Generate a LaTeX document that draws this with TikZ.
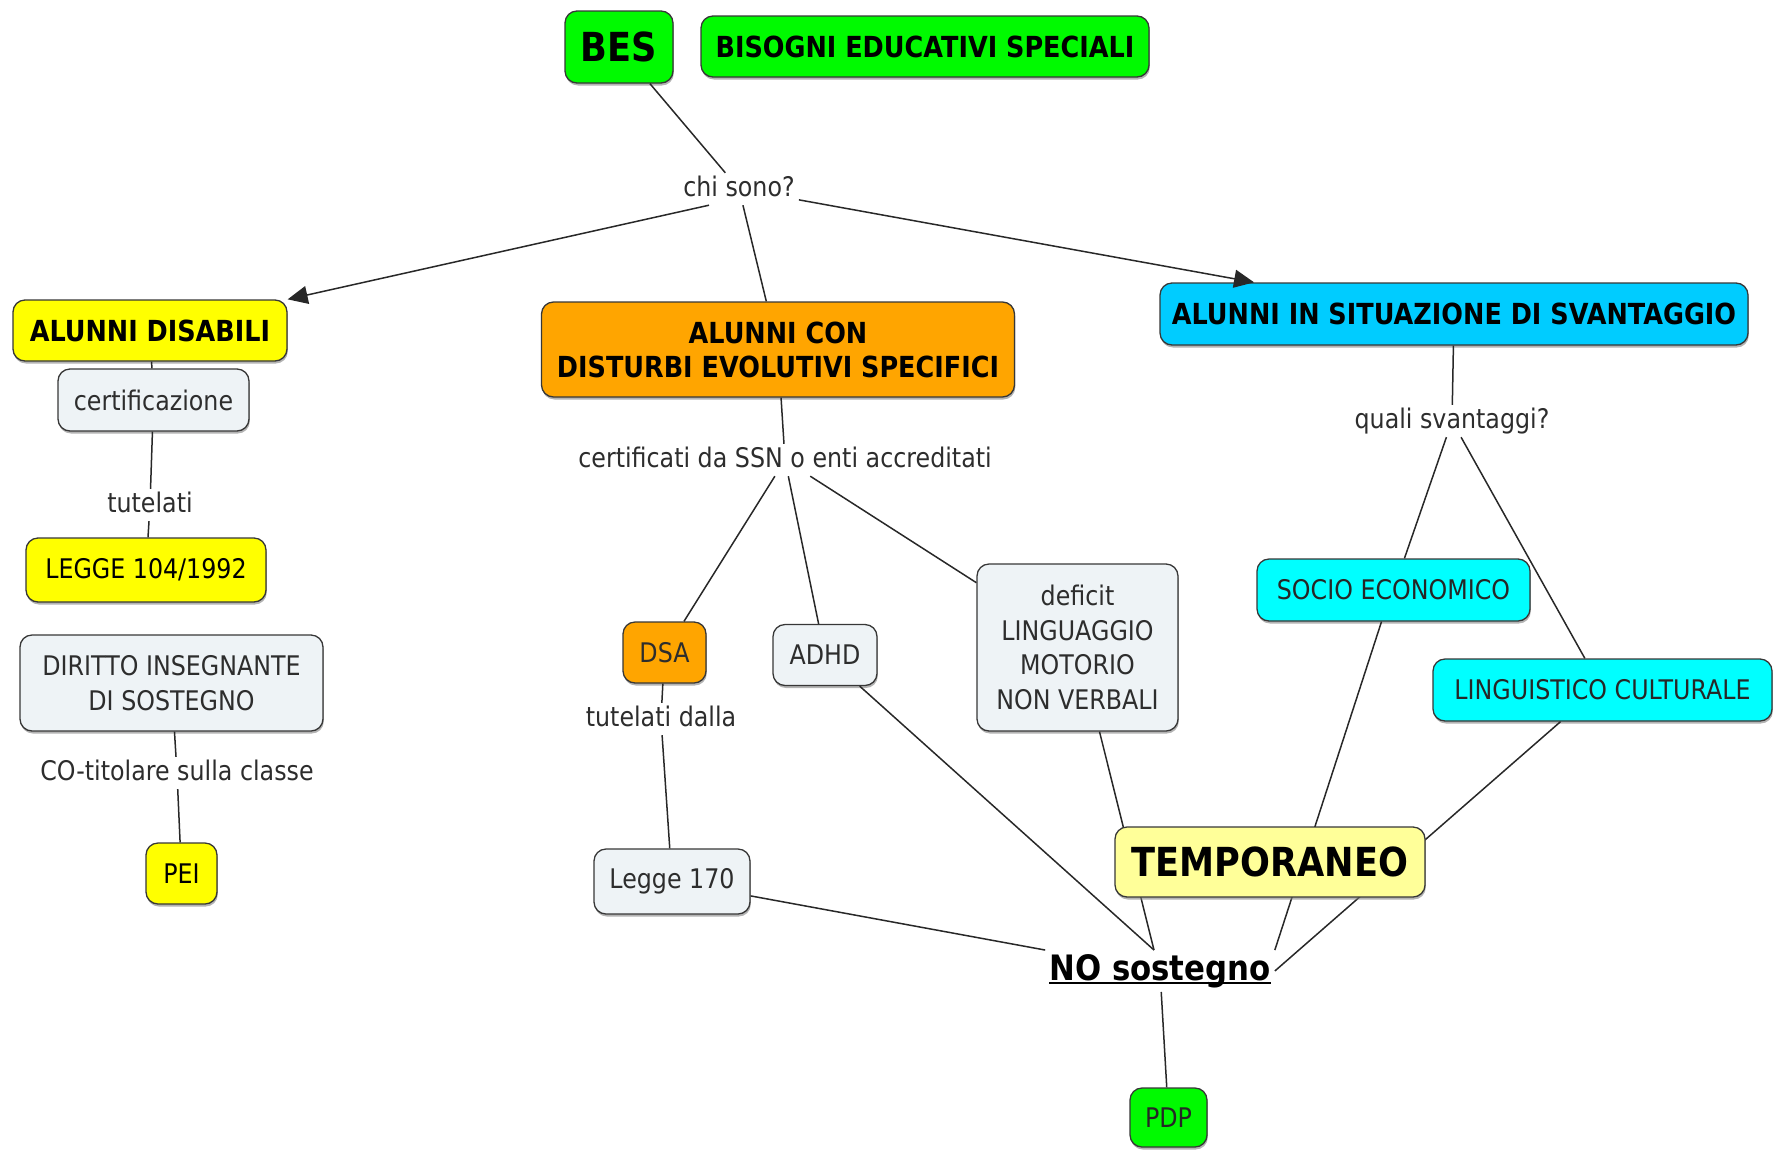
\documentclass[tikz,border=0pt]{standalone}
\usepackage{fontspec}
\setmainfont{DejaVu Sans}[FakeStretch=0.88]
\usetikzlibrary{arrows.meta,shadows}
\definecolor{cGreen}{RGB}{0,250,0}
\definecolor{cYellow}{RGB}{255,255,0}
\definecolor{cOrange}{RGB}{255,165,0}
\definecolor{cBlue}{RGB}{0,204,255}
\definecolor{cCyan}{RGB}{0,255,255}
\definecolor{cGray}{RGB}{238,243,246}
\definecolor{cTemp}{RGB}{255,255,153}
\definecolor{cBorder}{RGB}{55,55,55}
\definecolor{cLine}{RGB}{40,40,40}
\definecolor{cText}{RGB}{45,45,45}
\newcommand\fReg{\fontsize{27}{34.7}\selectfont}
\newcommand\fHead{\fontsize{29}{34}\selectfont\bfseries}
\newcommand\fBig{\fontsize{40}{44}\selectfont\bfseries}
\newcommand\fNos{\fontsize{35}{40}\selectfont\bfseries}
\newcommand\ulbox[1]{\setbox0=\hbox{#1}\rlap{\rule[-4pt]{\wd0}{2pt}}\box0}
\tikzset{
  concept/.style={draw=cBorder, line width=1.3pt, rounded corners=12pt, inner sep=0pt, align=center,
    drop shadow={shadow xshift=0.8pt, shadow yshift=-2.5pt, fill=black!50, opacity=.6}},
  sz/.style 2 args={minimum width=#1, minimum height=#2},
  regc/.style={font=\fReg, text=cText},
  headc/.style={font=\fHead, text=black},
  linkph/.style={font=\fReg, text=cText, inner sep=4pt, text height=19pt, text depth=5pt},
  conn/.style={draw=cLine, line width=1.5pt},
  arr/.style={conn, -{Triangle[length=20pt,width=18pt]}},
}
\begin{document}
\begin{tikzpicture}[x=1pt,y=-1pt]
\useasboundingbox (0,0) rectangle (1774,1149);

% top
\node[concept, fill=cGreen, sz={108pt}{72pt}, font=\fBig] (bes) at (619,47) {BES};
\node[concept, fill=cGreen, sz={448pt}{61pt}, headc] (bisogni) at (925,46.5) {BISOGNI EDUCATIVI SPECIALI};
\node[linkph] (chi) at (739,189) {chi sono?};

% left column
\node[concept, fill=cYellow, sz={274pt}{61pt}, headc] (dis) at (150,330.5) {ALUNNI DISABILI};
\node[concept, fill=cGray, sz={191pt}{62pt}, regc] (cert) at (153.5,400) {certificazione};
\node[linkph] (tut) at (150,505) {tutelati};
\node[concept, fill=cYellow, sz={240pt}{64pt}, font=\fReg, text=black] (leg104) at (146,570) {LEGGE 104/1992};
\node[concept, fill=cGray, sz={303pt}{96pt}, regc] (dir) at (171.5,683) {DIRITTO INSEGNANTE\\DI SOSTEGNO};
\node[linkph] (cot) at (177,773) {CO-titolare sulla classe};
\node[concept, fill=cYellow, sz={71pt}{61pt}, font=\fReg, text=black] (pei) at (181.5,873.5) {PEI};

% middle column
\node[concept, fill=cOrange, sz={473pt}{95pt}, headc] (alcon) at (778,349.5) {ALUNNI CON\\DISTURBI EVOLUTIVI SPECIFICI};
\node[linkph] (ssn) at (785,460) {certificati da SSN o enti accreditati};
\node[concept, fill=cOrange, sz={83pt}{61pt}, regc] (dsa) at (664.5,652.5) {DSA};
\node[linkph] (tdalla) at (661,719) {tutelati dalla};
\node[concept, fill=cGray, sz={156pt}{65pt}, regc] (leg170) at (672,881.5) {Legge 170};
\node[concept, fill=cGray, sz={104pt}{61pt}, regc] (adhd) at (825,655) {ADHD};
\node[concept, fill=cGray, sz={201pt}{167pt}, regc] (def) at (1077.5,647.5) {deficit\\LINGUAGGIO\\MOTORIO\\NON VERBALI};

% right column
\node[concept, fill=cBlue, sz={588pt}{62pt}, headc] (sit) at (1454,314) {ALUNNI IN SITUAZIONE DI SVANTAGGIO};
\node[linkph] (quali) at (1452,421) {quali svantaggi?};
\node[concept, fill=cCyan, sz={273pt}{62pt}, font=\fReg, text=black!85] (socio) at (1393.5,590) {SOCIO ECONOMICO};
\node[concept, fill=cCyan, sz={339pt}{62pt}, font=\fReg, text=black!85] (ling) at (1602.5,690) {LINGUISTICO CULTURALE};

% bottom
\node[font=\fNos, inner sep=4pt] (nos) at (1160,971) {\ulbox{NO sostegno}};
\node[concept, fill=cGreen, sz={77pt}{59pt}, font=\fReg, text=black!85] (pdp) at (1168.5,1117.5) {PDP};

% connectors
\draw[conn] (bes) -- (chi);
\draw[arr] ([xshift=-30pt]chi.south) -- (dis.north east);
\draw[conn] (chi) -- (alcon);
\draw[arr] (chi) -- (sit.171);

\draw[conn] (dis) -- (cert);
\draw[conn] (cert) -- (tut);
\draw[conn] (tut) -- (leg104);
\draw[conn] (dir) -- (cot);
\draw[conn] (cot) -- (pei);

\draw[conn] (alcon) -- (ssn);
\draw[conn] (ssn) -- (dsa);
\draw[conn] (ssn) -- (adhd);
\draw[conn] (ssn) -- (def);
\draw[conn] (dsa) -- (tdalla);
\draw[conn] (tdalla) -- (leg170);
\draw[conn] (adhd) -- ([xshift=-6pt]nos.north);
\draw[conn] (leg170) -- (nos.north west);
\draw[conn] ([xshift=22pt]def.south) -- ([xshift=-6pt]nos.north);

\draw[conn] (sit) -- (quali);
\draw[conn] (quali) -- (socio);
\draw[conn] (quali) -- (ling);
\draw[conn] ([xshift=-12pt]socio.south) -- (nos.north east);
\draw[conn] ([xshift=-42pt]ling.south) -- (nos.east);
\draw[conn] (nos) -- (pdp);

% drawn last, over the lines that pass behind it
\node[concept, fill=cTemp, sz={310pt}{70pt}, font=\fBig] (temp) at (1270,862) {TEMPORANEO};
\end{tikzpicture}
\end{document}
